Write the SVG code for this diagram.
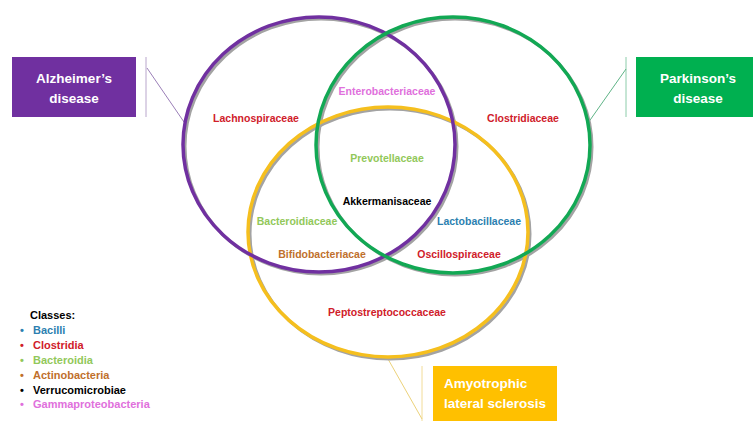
<svg xmlns="http://www.w3.org/2000/svg" width="753" height="421" viewBox="0 0 753 421">
<style>
.shadow{fill:none;stroke:#a3a3a3;stroke-width:3}
.ring{fill:none;stroke-width:3.5}
.lbl{font-family:"Liberation Sans",Arial,sans-serif;font-weight:bold;font-size:10.5px;text-anchor:middle}
.box{font-family:"Liberation Sans",Arial,sans-serif;font-weight:bold;font-size:13.5px;fill:#ffffff}
.leg{font-family:"Liberation Sans",Arial,sans-serif;font-weight:bold;font-size:11px}
.red{fill:#d0202a}.pink{fill:#e070dc}.lg{fill:#92c85a}.blue{fill:#2c7fb0}.brown{fill:#c0702c}.blk{fill:#000}
</style>
<rect width="753" height="421" fill="#ffffff"/>
<g id="connectors" fill="none" stroke-width="1">
<line x1="146" y1="57" x2="146" y2="117" stroke="#b9a6cc"/>
<line x1="147" y1="68" x2="184" y2="122" stroke="#9b7fb8"/>
<line x1="626" y1="57" x2="626" y2="117" stroke="#8cccaa"/>
<line x1="626" y1="69" x2="588" y2="123" stroke="#5fb487"/>
<line x1="422" y1="366" x2="422" y2="421" stroke="#f2dc98"/>
<line x1="388" y1="359" x2="422" y2="419" stroke="#ecd27a"/>
</g>
<g id="shadows">
<ellipse class="shadow" cx="390" cy="234" rx="140" ry="125"/>
<ellipse class="shadow" cx="321" cy="146.5" rx="136" ry="127.5"/>
<ellipse class="shadow" cx="455" cy="147" rx="137" ry="128"/>
</g>
<g id="als">
<ellipse class="ring" cx="388" cy="232" rx="140" ry="125" stroke="#f5bf1e"/>
<rect x="433" y="366" width="124" height="60" fill="#ffc000"/>
<text class="box" x="444" y="388">Amyotrophic</text>
<text class="box" x="444" y="408">lateral sclerosis</text>
</g>
<g id="alzheimers">
<ellipse class="ring" cx="319" cy="144.5" rx="136" ry="127.5" stroke="#7030a0"/>
<rect x="12" y="57" width="124" height="60" fill="#7030a0"/>
<text class="box" x="74" y="83" text-anchor="middle">Alzheimer’s</text>
<text class="box" x="74" y="103" text-anchor="middle">disease</text>
</g>
<g id="parkinsons">
<ellipse class="ring" cx="453" cy="145" rx="137" ry="128" stroke="#12a854"/>
<rect x="636" y="57" width="124" height="60" fill="#00b050"/>
<text class="box" x="698" y="83" text-anchor="middle">Parkinson’s</text>
<text class="box" x="698" y="103" text-anchor="middle">disease</text>
</g>
<g id="families">
<text class="lbl pink" x="387" y="95">Enterobacteriaceae</text>
<text class="lbl red" x="256" y="122">Lachnospiraceae</text>
<text class="lbl red" x="523" y="122">Clostridiaceae</text>
<text class="lbl lg" x="387" y="162">Prevotellaceae</text>
<text class="lbl blk" x="387" y="205">Akkermanisaceae</text>
<text class="lbl lg" x="297" y="225">Bacteroidiaceae</text>
<text class="lbl blue" x="479" y="225">Lactobacillaceae</text>
<text class="lbl brown" x="322" y="258">Bifidobacteriacae</text>
<text class="lbl red" x="459" y="258">Oscillospiraceae</text>
<text class="lbl red" x="387" y="316">Peptostreptococcaceae</text>
</g>
<g id="legend">
<text class="leg blk" x="30" y="319">Classes:</text>
<text x="20" y="334" class="leg blue">•</text><text x="33" y="334" class="leg blue">Bacilli</text>
<text x="20" y="349" class="leg red">•</text><text x="33" y="349" class="leg red">Clostridia</text>
<text x="20" y="364" class="leg lg">•</text><text x="33" y="364" class="leg lg">Bacteroidia</text>
<text x="20" y="379" class="leg brown">•</text><text x="33" y="379" class="leg brown">Actinobacteria</text>
<text x="20" y="394" class="leg blk">•</text><text x="33" y="394" class="leg blk">Verrucomicrobiae</text>
<text x="20" y="408" class="leg pink">•</text><text x="33" y="408" class="leg pink">Gammaproteobacteria</text>
</g>
</svg>
